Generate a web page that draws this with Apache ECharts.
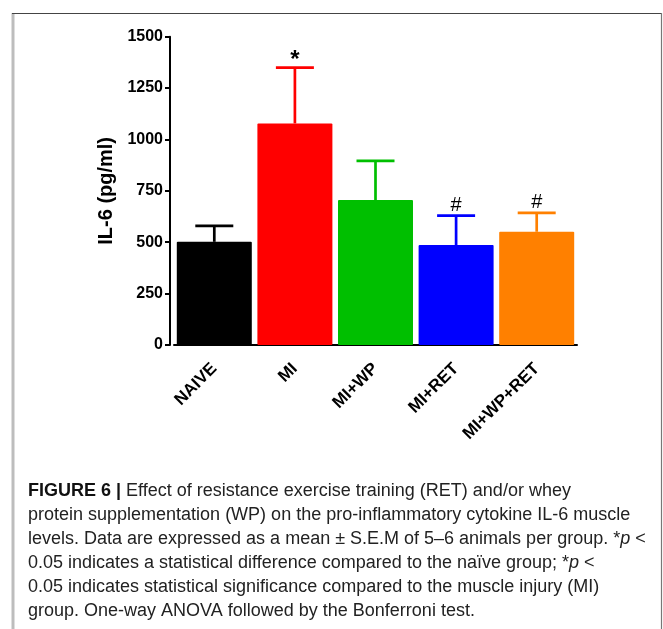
<!DOCTYPE html>
<html>
<head>
<meta charset="utf-8">
<script src="https://cdn.jsdelivr.net/npm/echarts@6/dist/echarts.min.js"></script>
<style>
html,body{margin:0;padding:0;background:#fff;}
#chart{width:663px;height:629px;}
</style>
</head>
<body>
<div id="chart"></div>
<script>
// ---- data ----
const categories = ['NAIVE', 'MI', 'MI+WP', 'MI+RET', 'MI+WP+RET'];
const means = [502, 1078, 705, 486, 551];
const sem = [78, 272, 191, 143, 92];
const annotations = ['', '*', '', '#', '#'];
const barColors = ['#000000', '#ff0000', '#00bf00', '#0000ff', '#ff8000'];
const yTicks = {min: 0, max: 1500, interval: 250};
const captionLines = [
  '{b|FIGURE 6 |} Effect of resistance exercise training (RET) and/or whey',
  'protein supplementation (WP) on the pro-inflammatory cytokine IL-6 muscle',
  'levels. Data are expressed as a mean ± S.E.M of 5–6 animals per group. *{i|p} <',
  '0.05 indicates a statistical difference compared to the naïve group; *{i|p} <',
  '0.05 indicates statistical significance compared to the muscle injury (MI)',
  'group. One-way ANOVA followed by the Bonferroni test.'
];

const chart = echarts.init(document.getElementById('chart'), null, {renderer: 'canvas'});
const font = 'Liberation Sans, Arial, Helvetica, sans-serif';

const errData = categories.map((c, i) => [i, means[i], means[i] + sem[i], annotations[i]]);

const graphics = [
  {type: 'line', shape: {x1: 13, y1: 13, x2: 13, y2: 629}, style: {stroke: '#bdbdbd', lineWidth: 3}},
  {type: 'line', shape: {x1: 12, y1: 13.5, x2: 662, y2: 13.5}, style: {stroke: '#444', lineWidth: 1.2}},
  {type: 'line', shape: {x1: 661.5, y1: 13, x2: 661.5, y2: 629}, style: {stroke: '#777', lineWidth: 1.2}}
];
captionLines.forEach((t, k) => {
  graphics.push({
    type: 'text', left: 28, top: 482 + k * 24,
    style: {
      text: t, fill: '#222', font: '18px ' + font,
      rich: {
        b: {fontWeight: 'bold', fontSize: 18, fontFamily: font, fill: '#111'},
        i: {fontStyle: 'italic', fontSize: 18, fontFamily: font, fill: '#222'}
      }
    }
  });
});

chart.setOption({
  animation: false,
  backgroundColor: '#fff',
  grid: {left: 174, right: 86, top: 36.7, bottom: 284, containLabel: false},
  xAxis: {
    type: 'category',
    data: categories,
    axisLine: {lineStyle: {color: '#000', width: 2}},
    axisTick: {alignWithLabel: true, length: 5, lineStyle: {color: '#000', width: 2}},
    axisLabel: {rotate: 45, margin: 21, color: '#000', fontWeight: 'bold', fontSize: 17, fontFamily: font, interval: 0}
  },
  yAxis: {
    type: 'value',
    min: yTicks.min, max: yTicks.max, interval: yTicks.interval,
    offset: 4,
    name: 'IL-6 (pg/ml)',
    nameLocation: 'middle',
    nameGap: 41,
    nameTextStyle: {color: '#000', fontWeight: 'bold', fontSize: 20, fontFamily: font},
    axisLine: {show: true, lineStyle: {color: '#000', width: 2}},
    axisTick: {show: true, length: 5, lineStyle: {color: '#000', width: 2}},
    axisLabel: {margin: 7, color: '#000', fontWeight: 'bold', fontSize: 16, fontFamily: font,
      formatter: function (v) { return String(v); }},
    splitLine: {show: false}
  },
  series: [
    {
      type: 'bar',
      barWidth: 75,
      data: means.map((v, i) => ({value: v, itemStyle: {color: barColors[i]}})),
      itemStyle: {borderRadius: 1}
    },
    {
      type: 'custom',
      z: 5,
      data: errData,
      encode: {x: 0, y: [1, 2]},
      renderItem: function (params, api) {
        const i = api.value(0);
        const base = api.coord([i, api.value(1)]);
        const top = api.coord([i, api.value(2)]);
        const half = 19;
        const color = barColors[i];
        const label = annotations[i];
        const children = [
          {type: 'line', shape: {x1: base[0], y1: base[1], x2: top[0], y2: top[1]}, style: {stroke: color, lineWidth: 2.7}},
          {type: 'line', shape: {x1: top[0] - half, y1: top[1], x2: top[0] + half, y2: top[1]}, style: {stroke: color, lineWidth: 2.7}}
        ];
        if (label) {
          const isStar = label === '*';
          children.push({
            type: 'text',
            x: top[0], y: top[1] + (isStar ? 5 : 0),
            style: {
              text: label, fill: '#000',
              font: (isStar ? 'bold 24px ' : '20px ') + font,
              align: 'center', verticalAlign: 'bottom'
            }
          });
        }
        return {type: 'group', children: children};
      }
    }
  ],
  graphic: graphics
});
</script>
</body>
</html>
